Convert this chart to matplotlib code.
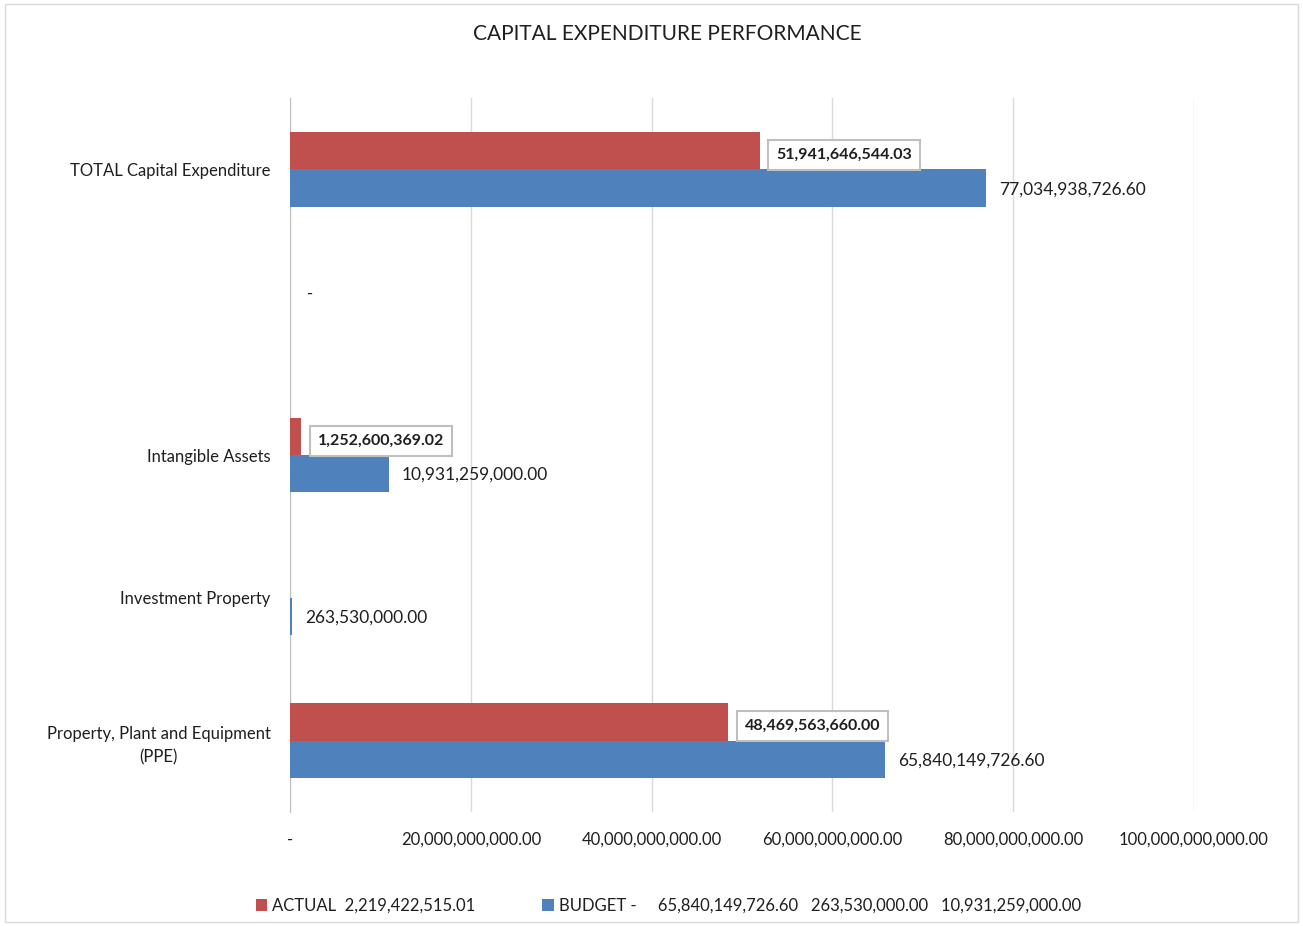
import matplotlib
matplotlib.use("Agg")
import matplotlib.pyplot as plt
from matplotlib.patches import Rectangle, Patch

plt.rcParams['font.family'] = ['Lato', 'DejaVu Sans']

# ---- data ----
categories = ["Property, Plant and Equipment\n(PPE)", "Investment Property",
              "Intangible Assets", "", "TOTAL Capital Expenditure"]
actual = [48469563660.00, 0.0, 1252600369.02, 0.0, 51941646544.03]
budget = [65840149726.60, 263530000.00, 10931259000.00, 0.0, 77034938726.60]
actual_labels = ["48,469,563,660.00", "", "1,252,600,369.02", "-", "51,941,646,544.03"]
budget_labels = ["65,840,149,726.60", "263,530,000.00", "10,931,259,000.00", "", "77,034,938,726.60"]
xticks = [0, 20e9, 40e9, 60e9, 80e9, 100e9]
xtick_labels = ["-", "20,000,000,000.00", "40,000,000,000.00", "60,000,000,000.00",
                "80,000,000,000.00", "100,000,000,000.00"]
legend_labels = ["ACTUAL  2,219,422,515.01",
                 "BUDGET -     65,840,149,726.60   263,530,000.00   10,931,259,000.00"]
title = "CAPITAL EXPENDITURE PERFORMANCE"

RED = "#C0504D"
BLUE = "#4F81BD"
TXT = "#1F1F1F"

fig = plt.figure(figsize=(13.03, 9.26), dpi=100)
ax = fig.add_axes([0.2226, 0.1231, 0.6937, 0.771])

h = 0.26
ypos = list(range(len(categories)))
ya = [y + h / 2 for y in ypos]
yb = [y - h / 2 for y in ypos]
ax.barh(ya, actual, height=h, color=RED, zorder=3)
ax.barh(yb, budget, height=h, color=BLUE, zorder=3)

ax.set_xlim(0, 100e9)
ax.set_ylim(-0.5, len(categories) - 0.5)
ax.set_xticks(xticks)
ax.set_xticklabels(xtick_labels, fontsize=12, color=TXT)
ax.set_yticks(ypos)
ax.set_yticklabels(categories, fontsize=12, color=TXT, ha='right',
                   multialignment='center', linespacing=1.55)
ax.tick_params(axis='y', length=0, pad=14)
ax.tick_params(axis='x', length=0, pad=14)
ax.grid(axis='x', color='#D9D9D9', linewidth=1, zorder=0)
for s in ['top', 'right', 'bottom']:
    ax.spines[s].set_visible(False)
ax.spines['left'].set_color('#BFBFBF')

# data labels
for y, v, lab in zip(ya, actual, actual_labels):
    if not lab:
        continue
    if lab == "-":
        ax.annotate(lab, (v, y), xytext=(12, 0), textcoords='offset points',
                    ha='left', va='center', fontsize=12, color=TXT)
        continue
    ax.annotate(lab, (v, y), xytext=(12, -3), textcoords='offset points',
                ha='left', va='center', fontsize=11.5, color=TXT, fontweight='bold',
                bbox=dict(boxstyle='square,pad=0.5', fc='white', ec='#BFBFBF', lw=1.5),
                zorder=5)
for y, v, lab in zip(yb, budget, budget_labels):
    if not lab:
        continue
    ax.annotate(lab, (v, y), xytext=(9, -1), textcoords='offset points',
                ha='left', va='center', fontsize=12.5, color=TXT)

fig.text(0.512, 0.963, title, ha='center', va='center', fontsize=15, color=TXT)

handles = [Patch(facecolor=RED), Patch(facecolor=BLUE)]
fig.legend(handles, legend_labels, loc='center', bbox_to_anchor=(0.513, 0.022), ncol=2,
           frameon=False, fontsize=12, handlelength=0.7, handleheight=0.7,
           handletextpad=0.3, columnspacing=4.0, labelcolor=TXT)

fig.patches.append(Rectangle((0.004, 0.004), 0.992, 0.992, transform=fig.transFigure,
                             fill=False, ec='#D9D9D9', lw=1))

fig.savefig("out.png", dpi=100, facecolor='white')
